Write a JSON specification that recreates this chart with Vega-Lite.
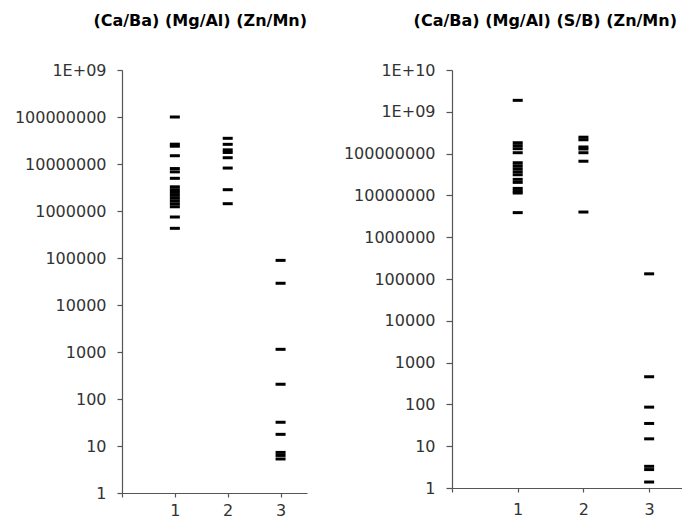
{
  "$schema": "https://vega.github.io/schema/vega-lite/v6.json",
  "padding": {"left": 0, "top": 13, "right": 0, "bottom": 0},
  "background": "white",
  "spacing": 36,
  "datasets": {
    "left": [
      {"g": 1, "v": 100000000}, {"g": 1, "v": 26400000}, {"g": 1, "v": 23900000}, {"g": 1, "v": 15000000},
      {"g": 1, "v": 8000000}, {"g": 1, "v": 6800000}, {"g": 1, "v": 4960000},
      {"g": 1, "v": 3270000}, {"g": 1, "v": 2840000}, {"g": 1, "v": 2480000}, {"g": 1, "v": 2150000},
      {"g": 1, "v": 1870000}, {"g": 1, "v": 1630000}, {"g": 1, "v": 1420000}, {"g": 1, "v": 1230000},
      {"g": 1, "v": 745000}, {"g": 1, "v": 428000},
      {"g": 2, "v": 35200000}, {"g": 2, "v": 26200000}, {"g": 2, "v": 20000000}, {"g": 2, "v": 17600000},
      {"g": 2, "v": 13600000}, {"g": 2, "v": 8200000}, {"g": 2, "v": 2840000}, {"g": 2, "v": 1430000},
      {"g": 3, "v": 89000}, {"g": 3, "v": 29000}, {"g": 3, "v": 1140}, {"g": 3, "v": 206},
      {"g": 3, "v": 32}, {"g": 3, "v": 17.7}, {"g": 3, "v": 7.3}, {"g": 3, "v": 6.3}, {"g": 3, "v": 5.3}
    ],
    "right": [
      {"g": 1, "v": 1880000000}, {"g": 1, "v": 182000000}, {"g": 1, "v": 155000000}, {"g": 1, "v": 131000000},
      {"g": 1, "v": 105000000}, {"g": 1, "v": 60500000}, {"g": 1, "v": 51300000}, {"g": 1, "v": 43500000},
      {"g": 1, "v": 36800000}, {"g": 1, "v": 31200000}, {"g": 1, "v": 24200000}, {"g": 1, "v": 20500000},
      {"g": 1, "v": 14700000}, {"g": 1, "v": 12700000}, {"g": 1, "v": 11400000}, {"g": 1, "v": 3870000},
      {"g": 2, "v": 247000000}, {"g": 2, "v": 214000000}, {"g": 2, "v": 144000000}, {"g": 2, "v": 129000000},
      {"g": 2, "v": 105000000}, {"g": 2, "v": 65700000}, {"g": 2, "v": 4000000},
      {"g": 3, "v": 133000}, {"g": 3, "v": 459}, {"g": 3, "v": 86}, {"g": 3, "v": 35},
      {"g": 3, "v": 15}, {"g": 3, "v": 3.3}, {"g": 3, "v": 2.76}, {"g": 3, "v": 1.39}
    ]
  },
  "hconcat": [
    {
      "width": 185,
      "height": 423,
      "data": {"name": "left"},
      "title": {"text": "(Ca/Ba) (Mg/Al) (Zn/Mn)", "anchor": "end", "frame": "group", "offset": 33},
      "mark": {"type": "tick", "orient": "horizontal", "size": 10, "thickness": 3, "color": "black", "opacity": 1},
      "encoding": {
        "x": {
          "field": "g", "type": "quantitative",
          "scale": {"domain": [0, 3.5], "nice": false, "zero": false},
          "axis": {"values": [0, 1, 2, 3], "labelExpr": "datum.value == 0 ? '' : format(datum.value, 'd')", "title": null, "grid": false, "tickSize": 4, "labelPadding": 5}
        },
        "y": {
          "field": "v", "type": "quantitative",
          "scale": {"type": "log", "domain": [1, 1000000000], "nice": false},
          "axis": {
            "values": [1, 10, 100, 1000, 10000, 100000, 1000000, 10000000, 100000000, 1000000000],
            "labelExpr": "datum.value >= 1e10 ? '1E+10' : datum.value >= 1e9 ? '1E+09' : format(datum.value, 'd')",
            "title": null, "grid": false, "tickSize": 5, "labelPadding": 11, "minExtent": 122, "maxExtent": 122
          }
        }
      }
    },
    {
      "width": 230,
      "height": 418,
      "data": {"name": "right"},
      "title": {"text": "(Ca/Ba) (Mg/Al) (S/B) (Zn/Mn)", "anchor": "end", "frame": "group", "offset": 33, "dx": -5},
      "mark": {"type": "tick", "orient": "horizontal", "size": 10, "thickness": 3, "color": "black", "opacity": 1},
      "encoding": {
        "x": {
          "field": "g", "type": "quantitative",
          "scale": {"domain": [0, 3.5], "nice": false, "zero": false},
          "axis": {"values": [0, 1, 2, 3], "labelExpr": "datum.value == 0 ? '' : format(datum.value, 'd')", "title": null, "grid": false, "tickSize": 4, "labelPadding": 9}
        },
        "y": {
          "field": "v", "type": "quantitative",
          "scale": {"type": "log", "domain": [1, 10000000000], "nice": false},
          "axis": {
            "values": [1, 10, 100, 1000, 10000, 100000, 1000000, 10000000, 100000000, 1000000000, 10000000000],
            "labelExpr": "datum.value >= 1e10 ? '1E+10' : datum.value >= 1e9 ? '1E+09' : format(datum.value, 'd')",
            "title": null, "grid": false, "tickSize": 6, "labelPadding": 11, "minExtent": 100, "maxExtent": 100
          }
        }
      }
    }
  ],
  "config": {
    "view": {"stroke": null},
    "axis": {
      "labelFont": "DejaVu Sans", "labelFontSize": 16, "labelColor": "#333333",
      "domainColor": "#555555", "tickColor": "#555555", "domainWidth": 1.2, "tickWidth": 1.2
    },
    "title": {"font": "DejaVu Sans", "fontSize": 16, "fontWeight": "bold", "color": "#000000"}
  }
}
